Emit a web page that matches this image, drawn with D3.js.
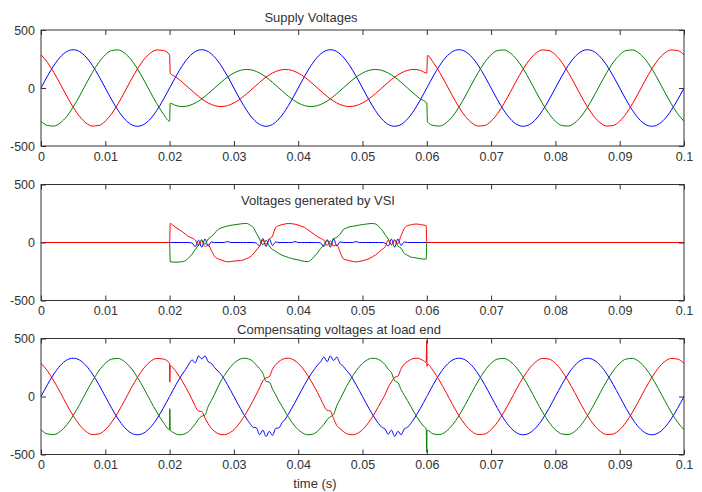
<!DOCTYPE html>
<html>
<head>
<meta charset="utf-8">
<script src="https://cdn.jsdelivr.net/npm/d3@7"></script>
<style>
  body { margin: 0; background: #fff; }
  text { font-family: "Liberation Sans", Arial, sans-serif; }
</style>
</head>
<body>
<div id="chart"></div>
<script>
// supply voltages (V) with the sag between 0.02 and 0.06 s
var timeSupply = [0,0.001,0.002,0.003,0.004,0.005,0.006,0.007,0.008,0.009,0.01,0.011,0.012,0.013,0.014,0.015,0.016,0.017,0.018,0.019,0.02,
    0.0201,0.021,0.022,0.023,0.024,0.025,0.026,0.027,0.028,0.029,0.03,0.031,0.032,0.033,0.034,0.035,0.036,0.037,0.038,0.039,0.04,
    0.041,0.042,0.043,0.044,0.045,0.046,0.047,0.048,0.049,0.05,0.051,0.052,0.053,0.054,0.055,0.056,0.057,0.058,0.059,0.06,
    0.0601,0.061,0.062,0.063,0.064,0.065,0.066,0.067,0.068,0.069,0.07,0.071,0.072,0.073,0.074,0.075,0.076,0.077,0.078,0.079,0.08,
    0.081,0.082,0.083,0.084,0.085,0.086,0.087,0.088,0.089,0.09,0.091,0.092,0.093,0.094,0.095,0.096,0.097,0.098,0.099,0.1];
var supplyBlue = [0,102,194,267,314,330,314,267,194,102,0,-102,-194,-267,-314,-330,-314,-267,-194,-102,0,
    10,102,194,267,314,330,314,267,194,102,0,-102,-194,-267,-314,-330,-314,-267,-194,-102,0,
    102,194,267,314,330,314,267,194,102,0,-102,-194,-267,-314,-330,-314,-267,-194,-102,0,
    10,102,194,267,314,330,314,267,194,102,0,-102,-194,-267,-314,-330,-314,-267,-194,-102,0,
    102,194,267,314,330,314,267,194,102,0,-102,-194,-267,-314,-330,-314,-267,-194,-102,0];
var supplyGreen = [-286,-323,-328,-301,-245,-165,-69,35,134,221,286,323,328,301,245,165,69,-35,-134,-221,-286,
    -132,-152,-160,-152,-129,-94,-49,0,49,94,129,152,160,152,129,94,49,0,-49,-94,-129,
    -152,-160,-152,-129,-94,-49,0,49,94,129,152,160,152,129,94,49,0,-49,-94,-129,
    -291,-323,-328,-301,-245,-165,-69,35,134,221,286,323,328,301,245,165,69,-35,-134,-221,-286,
    -323,-328,-301,-245,-165,-69,35,134,221,286,323,328,301,245,165,69,-35,-134,-221,-286];
var supplyRed = [286,221,134,35,-69,-165,-245,-301,-328,-323,-286,-221,-134,-35,69,165,245,301,328,323,286,
    126,94,49,0,-49,-94,-129,-152,-160,-152,-129,-94,-49,0,49,94,129,152,160,152,129,
    94,49,0,-49,-94,-129,-152,-160,-152,-129,-94,-49,0,49,94,129,152,160,152,129,
    280,221,134,35,-69,-165,-245,-301,-328,-323,-286,-221,-134,-35,69,165,245,301,328,323,286,
    221,134,35,-69,-165,-245,-301,-328,-323,-286,-221,-134,-35,69,165,245,301,328,323,286];

// voltages injected by the VSI
var timeVsi = [0,0.02,0.0201,
    0.0205,0.021,0.0215,0.022,0.0225,0.023,0.0235,0.024,0.0245,0.025,0.0255,0.026,0.0265,0.027,0.0275,0.028,0.0285,0.029,0.0295,0.03,
    0.0305,0.031,0.0315,0.032,0.0325,0.033,0.0335,0.034,0.0345,0.035,0.0355,0.036,0.0365,0.037,0.0375,0.038,0.0385,0.039,0.0395,0.04,
    0.0405,0.041,0.0415,0.042,0.0425,0.043,0.0435,0.044,0.0445,0.045,0.0455,0.046,0.0465,0.047,0.0475,0.048,0.0485,0.049,0.0495,0.05,
    0.0505,0.051,0.0515,0.052,0.0525,0.053,0.0535,0.054,0.0545,0.055,0.0555,0.056,0.0565,0.057,0.0575,0.058,0.0585,0.059,0.0595,
    0.0599,0.06,0.1];
var vsiBlue = [0,0,0,
    0,0,0,0,0,0,-5,-35,20,-40,
    30,-30,5,0,0,0,0,8,0,0,
    0,0,0,0,0,0,-5,-30,35,-35,
    30,-25,5,0,0,0,0,0,8,0,
    0,0,0,0,0,0,-5,-35,25,-40,
    35,-30,5,0,0,0,0,8,0,0,
    0,0,0,0,0,0,-5,-30,30,-40,
    30,-25,5,0,0,0,0,0,0,
    0,0,0];
var vsiGreen = [0,0,-167,
    -168,-170,-168,-165,-155,-130,-100,-60,-20,25,
    -15,30,50,80,110,125,135,142,148,152,
    156,160,163,164,150,130,80,30,-20,20,
    -30,-60,-75,-95,-110,-120,-130,-138,-145,-150,
    -158,-163,-165,-150,-120,-90,-50,-20,20,-15,
    30,45,70,110,125,135,140,145,150,155,
    158,162,164,160,140,110,70,30,-20,15,
    -30,-50,-95,-110,-125,-130,-135,-140,-143,
    -143,0,0];
var vsiRed = [0,0,164,
    150,128,110,92,70,50,38,20,-25,15,
    -35,-20,-70,-120,-140,-150,-160,-167,-165,-160,
    -158,-155,-150,-138,-125,-100,-65,-30,20,-15,
    30,55,130,145,155,160,164,162,158,150,
    140,130,110,90,70,50,35,20,-25,15,
    -30,-20,-80,-140,-150,-158,-163,-167,-163,-158,
    -150,-140,-125,-108,-85,-60,-40,20,-20,25,
    -10,60,120,145,152,158,159,155,150,
    145,0,0];

// compensated voltages at the load end
var timeLoad = [0,0.001,0.002,0.003,0.004,0.005,0.006,0.007,0.008,0.009,0.01,0.011,0.012,0.013,0.014,0.015,0.016,0.017,0.018,0.019,0.02,
    0.02003,0.0201,
    0.0205,0.021,0.0215,0.022,0.0225,0.023,0.0235,0.024,0.0245,0.025,0.0255,0.026,0.0265,0.027,0.0275,0.028,0.0285,0.029,0.0295,0.03,
    0.0305,0.031,0.0315,0.032,0.0325,0.033,0.0335,0.034,0.0345,0.035,0.0355,0.036,0.0365,0.037,0.0375,0.038,0.0385,0.039,0.0395,0.04,
    0.0405,0.041,0.0415,0.042,0.0425,0.043,0.0435,0.044,0.0445,0.045,0.0455,0.046,0.0465,0.047,0.0475,0.048,0.0485,0.049,0.0495,0.05,
    0.0505,0.051,0.0515,0.052,0.0525,0.053,0.0535,0.054,0.0545,0.055,0.0555,0.056,0.0565,0.057,0.0575,0.058,0.0585,0.059,0.0595,
    0.0599,0.06,0.06003,0.0601,
    0.061,0.062,0.063,0.064,0.065,0.066,0.067,0.068,0.069,0.07,0.071,0.072,0.073,0.074,0.075,0.076,0.077,0.078,0.079,0.08,
    0.081,0.082,0.083,0.084,0.085,0.086,0.087,0.088,0.089,0.09,0.091,0.092,0.093,0.094,0.095,0.096,0.097,0.098,0.099,0.1];
var loadBlue = [0,102,194,267,314,330,314,267,194,102,0,-102,-194,-267,-314,-330,-314,-267,-194,-102,0,
    3,10,
    52,102,150,194,233,280,315,290,350,325,
    350,300,285,250,220,190,150,102,52,0,
    -52,-102,-150,-194,-233,-265,-270,-330,-290,-345,
    -300,-335,-275,-270,-225,-194,-150,-102,-52,0,
    52,102,150,194,233,270,300,340,300,350,
    310,340,285,260,225,194,150,102,52,0,
    -52,-102,-150,-194,-233,-265,-280,-325,-290,-345,
    -300,-330,-280,-265,-233,-194,-150,-102,-52,
    -10,0,3,10,
    102,194,267,314,330,314,267,194,102,0,-102,-194,-267,-314,-330,-314,-267,-194,-102,0,
    102,194,267,314,330,314,267,194,102,0,-102,-194,-267,-314,-330,-314,-267,-194,-102,0];
var loadGreen = [-286,-323,-328,-301,-245,-165,-69,35,134,221,286,323,328,301,245,165,69,-35,-134,-221,-286,
    -106,-290,
    -308,-323,-330,-328,-319,-301,-270,-235,-195,-170,
    -160,-85,-35,20,80,134,180,221,256,286,
    308,323,330,328,319,301,270,240,200,130,
    125,65,15,-40,-85,-134,-180,-221,-256,-286,
    -308,-323,-330,-328,-319,-301,-270,-240,-200,-175,
    -155,-80,-25,30,85,134,180,221,256,286,
    308,323,330,328,319,301,275,235,205,135,
    120,60,10,-35,-85,-134,-180,-221,-256,
    -280,-480,-300,-291,
    -323,-328,-301,-245,-165,-69,35,134,221,286,323,328,301,245,165,69,-35,-134,-221,-286,
    -323,-328,-301,-245,-165,-69,35,134,221,286,323,328,301,245,165,69,-35,-134,-221,-286];
var loadRed = [286,221,134,35,-69,-165,-245,-301,-328,-323,-286,-221,-134,-35,69,165,245,301,328,323,286,
    124,268,
    250,215,175,130,80,30,-25,-85,-125,-130,
    -185,-235,-275,-301,-319,-328,-330,-323,-308,-286,
    -256,-221,-180,-134,-85,-35,20,75,135,160,
    170,235,275,301,319,328,330,323,308,286,
    256,221,180,134,85,35,-20,-80,-120,-125,
    -190,-250,-277,-301,-319,-328,-330,-323,-308,-286,
    -256,-221,-180,-134,-85,-35,15,80,125,165,
    175,240,280,301,319,328,330,323,308,
    295,480,260,280,
    221,134,35,-69,-165,-245,-301,-328,-323,-286,-221,-134,-35,69,165,245,301,328,323,286,
    221,134,35,-69,-165,-245,-301,-328,-323,-286,-221,-134,-35,69,165,245,301,328,323,286];

var xTicks = [0,0.01,0.02,0.03,0.04,0.05,0.06,0.07,0.08,0.09,0.1];
var yTicks = [-500,0,500];
var yTickLabels = ['-500','0','500'];
var titles = ['Supply Voltages', 'Voltages generated by VSI', 'Compensating voltages at load end'];
var colors = ['#0000ff', '#008000', '#ff0000'];

var width = 702,
    height = 492,
    left = 41,
    right = 684,
    panelHeight = 116;

var panels = [
    {title: titles[0], top: 30, time: timeSupply, series: [supplyBlue, supplyGreen, supplyRed], tx: 311, ty: 22},
    {title: titles[1], top: 184.5, time: timeVsi, series: [vsiBlue, vsiGreen, vsiRed], tx: 318, ty: 205},
    {title: titles[2], top: 338.5, time: timeLoad, series: [loadBlue, loadGreen, loadRed], tx: 339, ty: 334}
];

var svg = d3.select('#chart')
    .append('svg')
    .attr('width', width)
    .attr('height', height);

svg.append('rect')
    .attr('width', width)
    .attr('height', height)
    .attr('fill', '#fff');

var x = d3.scaleLinear().domain([0, 0.1]).range([left, right]);

panels.forEach((p, pi) => {
    var y = d3.scaleLinear().domain([-500, 500]).range([p.top + panelHeight, p.top]);
    var g = svg.append('g');

    g.append('clipPath')
        .attr('id', 'clip' + pi)
        .append('rect')
        .attr('x', left)
        .attr('y', p.top)
        .attr('width', right - left)
        .attr('height', panelHeight);

    var line = d3.line()
        .x((d, i) => x(p.time[i]))
        .y(d => y(d))
        .curve(d3.curveMonotoneX);

    g.selectAll('path.trace')
        .data(p.series)
        .enter()
        .append('path')
        .attr('class', 'trace')
        .attr('clip-path', 'url(#clip' + pi + ')')
        .attr('fill', 'none')
        .attr('stroke', (d, i) => colors[i])
        .attr('stroke-width', 1)
        .attr('d', line);

    var bottomAxis = g.append('g')
        .attr('transform', 'translate(0,' + (p.top + panelHeight) + ')')
        .call(d3.axisBottom(x).tickValues(xTicks).tickSize(-5).tickPadding(6).tickFormat(d3.format('.2~f')));
    var topAxis = g.append('g')
        .attr('transform', 'translate(0,' + p.top + ')')
        .call(d3.axisTop(x).tickValues(xTicks).tickSize(-5).tickFormat(() => ''));
    var leftAxis = g.append('g')
        .attr('transform', 'translate(' + left + ',0)')
        .call(d3.axisLeft(y).tickValues(yTicks).tickSize(-5).tickPadding(6).tickFormat((d, i) => yTickLabels[i]));
    var rightAxis = g.append('g')
        .attr('transform', 'translate(' + right + ',0)')
        .call(d3.axisRight(y).tickValues(yTicks).tickSize(-5).tickFormat(() => ''));

    [bottomAxis, topAxis, leftAxis, rightAxis].forEach(a => {
        a.select('.domain').remove();
        a.attr('font-size', 12.5)
            .attr('font-family', '"Liberation Sans", Arial, sans-serif')
            .style('color', '#333');
    });

    g.append('rect')
        .attr('x', left)
        .attr('y', p.top)
        .attr('width', right - left)
        .attr('height', panelHeight)
        .attr('fill', 'none')
        .attr('stroke', '#333')
        .attr('stroke-width', 1);

    g.append('text')
        .attr('x', p.tx)
        .attr('y', p.ty)
        .attr('text-anchor', 'middle')
        .attr('font-size', 13)
        .attr('fill', '#333')
        .text(p.title);
});

svg.append('text')
    .attr('x', 315)
    .attr('y', 488)
    .attr('text-anchor', 'middle')
    .attr('font-size', 13)
    .attr('fill', '#333')
    .text('time (s)');
</script>
</body>
</html>
